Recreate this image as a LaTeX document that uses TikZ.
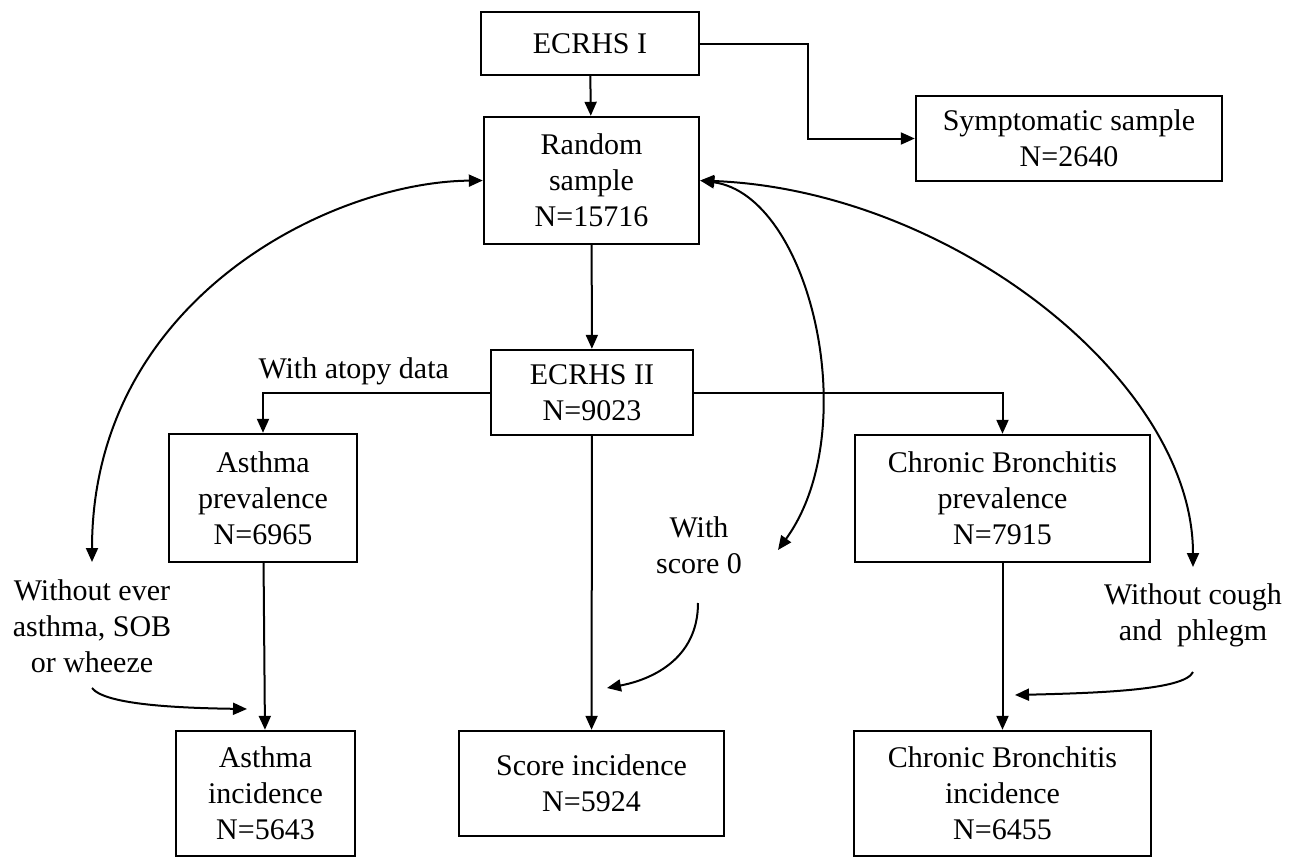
\documentclass[tikz,border=0pt]{standalone}
\usepackage{fontspec}
\setmainfont{Liberation Serif}
\usetikzlibrary{arrows.meta}

\begin{document}
\begin{tikzpicture}[->,>={Triangle[length=7pt,width=6pt]},x=0.5pt,y=-0.5pt,
					  line width=1pt,
					  box node/.style={rectangle,draw,line width=1.2pt,inner sep=0pt,align=center,font=\fontsize{15}{18}\selectfont},
					  text node/.style={align=center,font=\fontsize{15}{18}\selectfont}]

					  \useasboundingbox (0,0) rectangle (1298,857);

					  % boxes
					  \node[box node,minimum width=109pt,minimum height=31.5pt] (e1) at (590,43.5) {ECRHS I};
					  \node[box node,minimum width=107.5pt,minimum height=63.5pt] (rs) at (591.5,180.5) {Random\\sample\\N=15716};
					  \node[box node,minimum width=153pt,minimum height=42.5pt] (ss) at (1069,138.5) {Symptomatic sample\\N=2640};
					  \node[box node,minimum width=101pt,minimum height=42.5pt] (e2) at (592,392.5) {ECRHS II\\N=9023};
					  \node[box node,minimum width=94pt,minimum height=64pt] (ap) at (263,498) {Asthma\\prevalence\\N=6965};
					  \node[box node,minimum width=147.5pt,minimum height=63.5pt] (cbp) at (1002.5,498.5) {Chronic Bronchitis\\prevalence\\N=7915};
					  \node[box node,minimum width=89.5pt,minimum height=62.5pt] (ai) at (265.5,793.5) {Asthma\\incidence\\N=5643};
					  \node[box node,minimum width=132.5pt,minimum height=52.5pt] (si) at (591.5,783.5) {Score incidence\\N=5924};
					  \node[box node,minimum width=148.5pt,minimum height=62.5pt] (cbi) at (1002.5,793.5) {Chronic Bronchitis\\incidence\\N=6455};

					  % side texts
					  \node[text node] (wever) at (92,626) {Without ever\\asthma, SOB\\or wheeze};
					  \node[text node] (wscore) at (699,545) {With\\score 0};
					  \node[text node] (wcough) at (1193,615) {Without cough\\and\ \ phlegm};

					  \coordinate (everend) at (92,562);
					  \coordinate (everstart) at (92,688);
					  \coordinate (evertip) at (247,709);
					  \coordinate (scoreend) at (778,550);
					  \coordinate (scorestart) at (698,603);
					  \coordinate (scoretip) at (607,688);
					  \coordinate (coughend) at (1193,567);
					  \coordinate (coughstart) at (1193,672);
					  \coordinate (coughtip) at (1015,695);

					  \path
					    (e1) edge (rs)
					    (rs) edge (e2)
					    (e2) edge (si)
					    (ap) edge (ai)
					    (cbp) edge (cbi)
					  ;
					  \draw (e1.east) -- ++(108,0) |- (ss.west);
					  \draw (e2.west) -| (ap.north) node[pos=0.3,above,text node] {With atopy data};
					  \draw (e2.east) -| (cbp.north);

					  % curved arrows
					  \draw[<->] (rs.west) .. controls (330,182) and (92,300) .. (everend);
					  \draw[<->] (rs.east) .. controls (810,195) and (865,430) .. (scoreend);
					  \draw[<->] (rs.east) .. controls (950,190) and (1193,380) .. (coughend);
					  \draw (everstart) .. controls (105,705) and (180,708) .. (evertip);
					  \draw (scorestart) .. controls (698,660) and (650,680) .. (scoretip);
					  \draw (coughstart) .. controls (1185,690) and (1100,693) .. (coughtip);
					\end{tikzpicture}
\end{document}
